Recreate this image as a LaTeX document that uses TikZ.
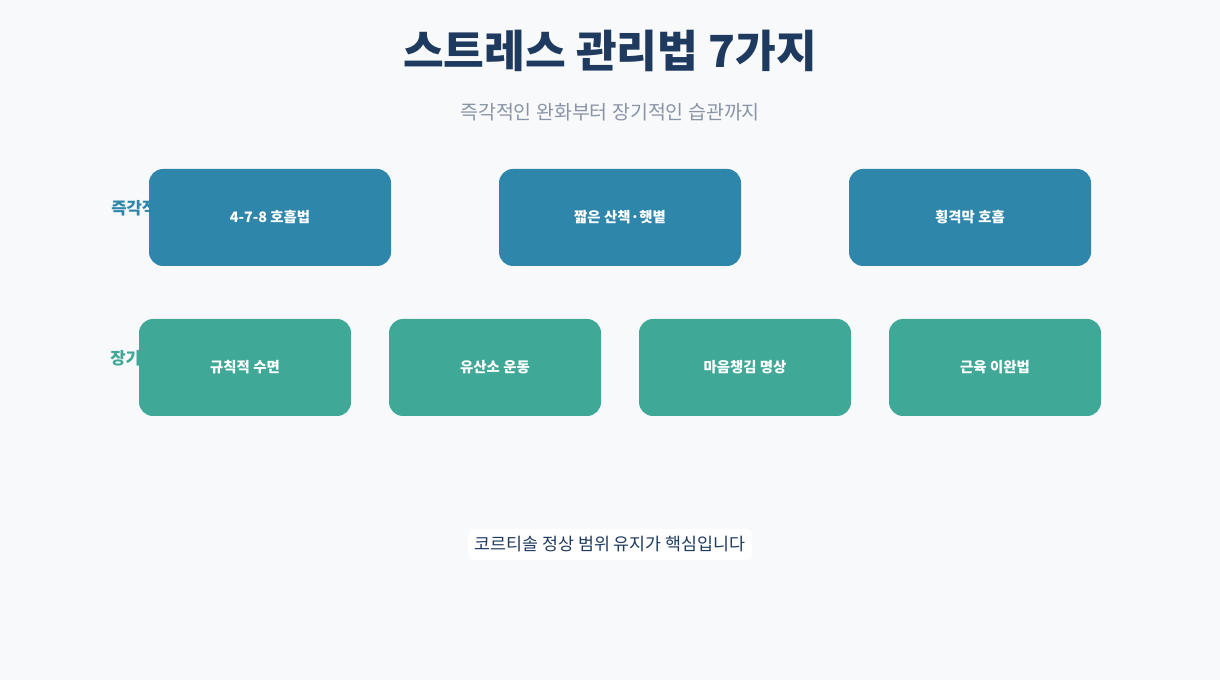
\documentclass[tikz,border=0pt]{standalone}
\usepackage{fontspec}
\setmainfont{Noto Sans CJK KR}
\usepackage{tikz}
\usetikzlibrary{positioning}
\definecolor{bgcol}{HTML}{F8F9FB}
\definecolor{navy}{HTML}{1E3A5F}
\definecolor{subgray}{HTML}{8A94A6}
\definecolor{quickblue}{HTML}{2E86AB}
\definecolor{longgreen}{HTML}{40A896}

\begin{document}
\begin{tikzpicture}[x=0.75pt,y=-0.75pt,
	quick/.style={rectangle,rounded corners=10.5pt,fill=quickblue,text=white,outer sep=0pt,
		minimum width=181.5pt,minimum height=72.75pt,font=\fontsize{10.8pt}{12pt}\selectfont\bfseries},
	habit/.style={rectangle,rounded corners=10.5pt,fill=longgreen,text=white,outer sep=0pt,
		minimum width=159pt,minimum height=72.75pt,font=\fontsize{10.8pt}{12pt}\selectfont\bfseries},
	rowlabel/.style={anchor=west,inner sep=0pt,font=\fontsize{12.5pt}{14pt}\selectfont\bfseries}
	]
	\fill[bgcol] (0,0) rectangle (1220,680);
	\useasboundingbox (0,0) rectangle (1220,680);
	
	\node[text=navy,font=\fontsize{33.2pt}{38pt}\selectfont\bfseries] at (610,51) (title) {스트레스 관리법 7가지};
	\node[text=subgray,font=\fontsize{14.6pt}{17pt}\selectfont] at (610,112) (sub) {즉각적인 완화부터 장기적인 습관까지};
	
	% row labels (partly hidden by the boxes)
	\node[rowlabel,text=quickblue] at (111,208) (lq) {즉각적};
	\node[rowlabel,text=longgreen] at (110,358) (ll) {장기적};
	
	% quick relief
	\node[quick] at (270,217.5) (q1) {4-7-8 호흡법};
	\node[quick,right=81pt of q1] (q2) {짧은 산책·햇볕};
	\node[quick,right=81pt of q2] (q3) {횡격막 호흡};
	
	% long-term habits
	\node[habit] at (245,367.5) (h1) {규칙적 수면};
	\node[habit,right=28.5pt of h1] (h2) {유산소 운동};
	\node[habit,right=28.5pt of h2] (h3) {마음챙김 명상};
	\node[habit,right=28.5pt of h3] (h4) {근육 이완법};
	
	\node[fill=white,rounded corners=5pt,text=navy,inner xsep=5pt,inner ysep=0pt,minimum height=23.25pt,
		font=\fontsize{13pt}{15pt}\selectfont] at (610,544.5) (note) {코르티솔 정상 범위 유지가 핵심입니다};
\end{tikzpicture}
\end{document}
